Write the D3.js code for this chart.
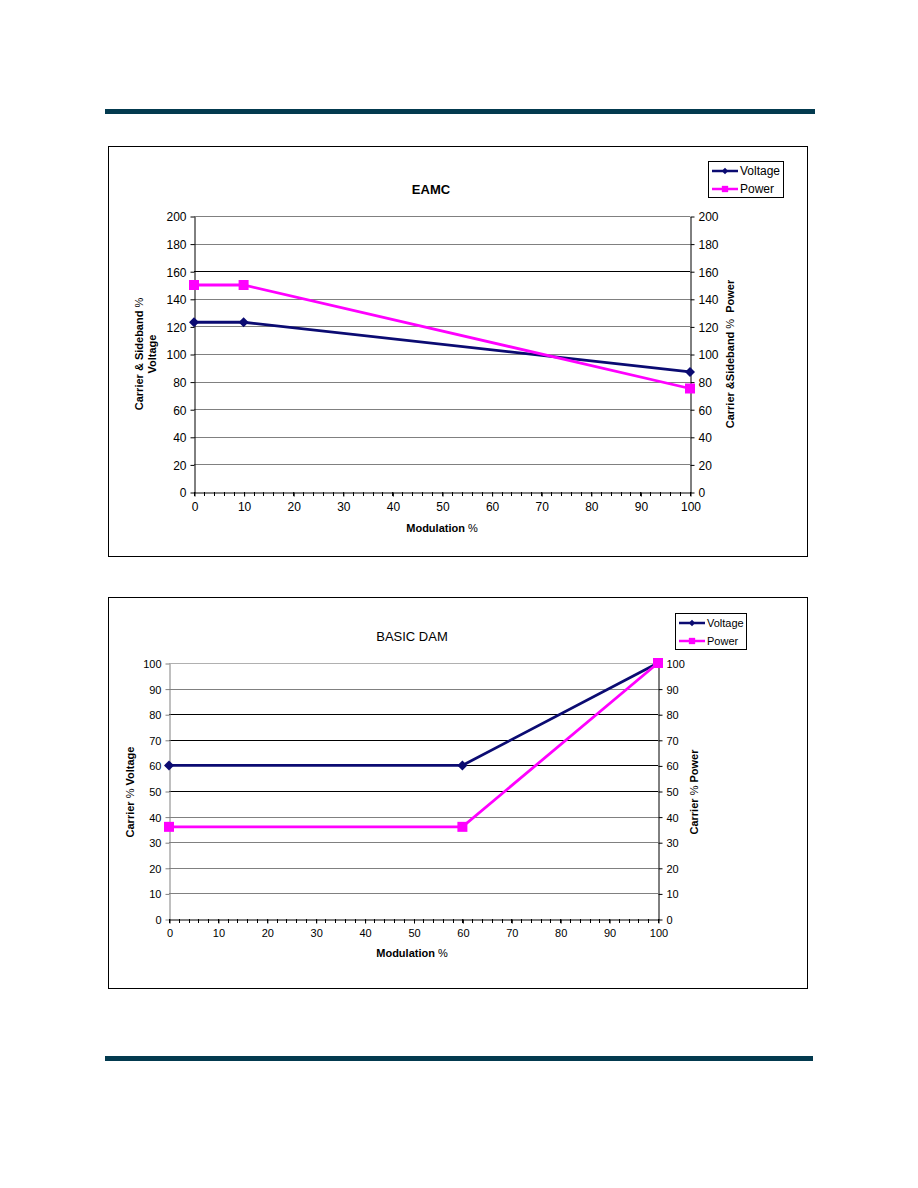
<!DOCTYPE html>
<html>
<head>
<meta charset="utf-8">
<script src="https://cdn.jsdelivr.net/npm/d3@7"></script>
<style>
  body { margin: 0; background: #fff; }
  svg { display: block; font-family: "Liberation Sans", Arial, sans-serif; }
</style>
</head>
<body>
<svg id="page" width="918" height="1188"></svg>
<script>

// chart values
var modulation_eamc = [0, 10, 100];
var eamc_voltage = [123, 123, 87];
var eamc_power = [150, 150, 75];

var modulation_dam = [0, 60, 100];
var dam_voltage = [60, 60, 100];
var dam_power = [36, 36, 100];

var x_ticks = [0, 10, 20, 30, 40, 50, 60, 70, 80, 90, 100];
var eamc_y_ticks = [0, 20, 40, 60, 80, 100, 120, 140, 160, 180, 200];
var dam_y_ticks = [0, 10, 20, 30, 40, 50, 60, 70, 80, 90, 100];

var series_names = ["Voltage", "Power"];

var voltage_col = "#0b0b72";
var power_col = "#ff00ff";
var bar_col = "#033a4f";

var svg = d3.select("#page");

// page rules top and bottom
svg.append("rect").attr("x", 105).attr("y", 109).attr("width", 710).attr("height", 5).attr("fill", bar_col);
svg.append("rect").attr("x", 105).attr("y", 1056).attr("width", 708).attr("height", 5).attr("fill", bar_col);

function drawChart(cfg) {
  var g = svg.append("g");

  // frame
  g.append("rect")
    .attr("x", cfg.box[0] + 0.5).attr("y", cfg.box[1] + 0.5)
    .attr("width", cfg.box[2]).attr("height", cfg.box[3])
    .attr("fill", "white").attr("stroke", "black").attr("stroke-width", 1);

  var x = d3.scaleLinear().domain([0, 100]).range([cfg.plot.left, cfg.plot.right]);
  var y = d3.scaleLinear().domain([0, cfg.ymax]).range([cfg.plot.bottom, cfg.plot.top]);

  // gridlines
  g.append("g").selectAll("line")
    .data(cfg.yticks.filter(function(d){ return d > 0; }))
    .enter().append("line")
      .attr("x1", cfg.plot.left).attr("x2", cfg.plot.right)
      .attr("y1", function(d){ return Math.round(y(d)) + 0.5; })
      .attr("y2", function(d){ return Math.round(y(d)) + 0.5; })
      .attr("stroke", function(d){ return cfg.dark_grid.indexOf(d) >= 0 ? "#000" : (d == cfg.ymax ? cfg.top_grid : "#808080"); })
      .attr("stroke-width", 1);

  // left axis
  var left_ax = g.append("g")
    .attr("transform", "translate(" + (cfg.plot.left + 0.5) + ",0.5)")
    .call(d3.axisLeft(y).tickValues(cfg.yticks).tickSize(4).tickSizeOuter(0));
  left_ax.select(".domain").attr("stroke", cfg.left_axis_col);
  left_ax.selectAll(".tick line").attr("stroke", cfg.left_axis_col);
  left_ax.selectAll("text").attr("x", -8).attr("dy", "0.36em")
    .style("font-size", cfg.tick_font + "px").attr("fill", "#000");

  // right axis
  var right_ax = g.append("g")
    .attr("transform", "translate(" + (cfg.plot.right + 0.5) + ",0.5)")
    .call(d3.axisRight(y).tickValues(cfg.yticks).tickSize(4).tickSizeOuter(0));
  right_ax.selectAll("text").attr("x", 8).attr("dy", "0.36em")
    .style("font-size", cfg.tick_font + "px").attr("fill", "#000");

  // x axis with minor ticks every 2
  var minor = d3.range(0, 101, 2);
  g.append("g").selectAll("line")
    .data(minor).enter().append("line")
      .attr("x1", function(d){ return Math.round(x(d)) + 0.5; })
      .attr("x2", function(d){ return Math.round(x(d)) + 0.5; })
      .attr("y1", cfg.plot.bottom).attr("y2", cfg.plot.bottom + 4)
      .attr("stroke", "#000");
  var x_ax = g.append("g")
    .attr("transform", "translate(0.5," + (cfg.plot.bottom + 0.5) + ")")
    .call(d3.axisBottom(x).tickValues(x_ticks).tickSize(4).tickSizeOuter(0));
  x_ax.selectAll("text").attr("y", 10).attr("dy", "0.71em")
    .style("font-size", cfg.tick_font + "px").attr("fill", "#000");

  // title
  g.append("text")
    .attr("x", cfg.title_pos[0]).attr("y", cfg.title_pos[1])
    .attr("text-anchor", "middle")
    .style("font-size", "13px")
    .style("font-weight", cfg.title_bold ? "bold" : "normal")
    .text(cfg.title);

  // x title
  var xt = g.append("text")
    .attr("x", cfg.xtitle_pos[0]).attr("y", cfg.xtitle_pos[1])
    .attr("text-anchor", "middle")
    .style("font-size", "11px");
  xt.append("tspan").style("font-weight", "bold").text("Modulation");
  xt.append("tspan").text(" %");

  // y titles (rotated)
  cfg.left_title.forEach(function(line, i) {
    var t = g.append("text")
      .attr("transform", "translate(" + (cfg.left_title_pos[0] + i * 13) + "," + cfg.left_title_pos[1] + ") rotate(-90)")
      .attr("text-anchor", "middle")
      .style("font-size", "11px");
    line.forEach(function(part) {
      t.append("tspan").style("font-weight", part[1] ? "bold" : "normal").text(part[0]);
    });
  });
  var rt = g.append("text")
    .attr("transform", "translate(" + cfg.right_title_pos[0] + "," + cfg.right_title_pos[1] + ") rotate(-90)")
    .attr("text-anchor", "middle")
    .style("font-size", "11px");
  cfg.right_title.forEach(function(part) {
    rt.append("tspan").style("font-weight", part[1] ? "bold" : "normal").attr("xml:space", "preserve").text(part[0]);
  });

  // series
  var line = d3.line().x(function(d){ return x(d[0]); }).y(function(d){ return y(d[1]); });
  var series = [
    {name: series_names[0], col: voltage_col, pts: d3.zip(cfg.mod, cfg.voltage), rot: 45, size: 50},
    {name: series_names[1], col: power_col, pts: d3.zip(cfg.mod, cfg.power), rot: 0, size: 100}
  ];
  series.forEach(function(s) {
    g.append("path").datum(s.pts)
      .attr("d", line).attr("fill", "none")
      .attr("stroke", s.col).attr("stroke-width", 2.8);
  });
  series.forEach(function(s) {
    g.append("g").selectAll("path")
      .data(s.pts).enter().append("path")
        .attr("transform", function(d){ return "translate(" + x(d[0]) + "," + y(d[1]) + ") rotate(" + s.rot + ")"; })
        .attr("d", d3.symbol().type(d3.symbolSquare).size(s.size))
        .attr("fill", s.col);
  });

  // legend
  var lg = g.append("g").attr("transform", "translate(" + cfg.legend[0] + "," + cfg.legend[1] + ")");
  lg.append("rect").attr("x", 0.5).attr("y", 0.5)
    .attr("width", cfg.legend[2]).attr("height", 36)
    .attr("fill", "white").attr("stroke", "black");
  series.forEach(function(s, i) {
    var yy = 10 + i * 18;
    lg.append("line").attr("x1", 4).attr("x2", 30).attr("y1", yy).attr("y2", yy)
      .attr("stroke", s.col).attr("stroke-width", 2.5);
    lg.append("path").attr("transform", "translate(17," + yy + ") rotate(" + s.rot + ")")
      .attr("d", d3.symbol().type(d3.symbolSquare).size(s.size * 0.4)).attr("fill", s.col);
    lg.append("text").attr("x", 32).attr("y", yy).attr("dy", "0.36em")
      .style("font-size", cfg.legend_font + "px").text(s.name);
  });
}

drawChart({
  box: [108, 146, 699, 410],
  plot: {left: 194, right: 690, top: 216, bottom: 492},
  ymax: 200, yticks: eamc_y_ticks, dark_grid: [160], top_grid: "#808080",
  left_axis_col: "#000", tick_font: 12,
  mod: modulation_eamc, voltage: eamc_voltage, power: eamc_power,
  title: "EAMC", title_bold: true, title_pos: [431, 194],
  xtitle_pos: [442, 532],
  left_title: [[["Carrier & Sideband ", true], ["%", false]], [["Voltage", true]]],
  left_title_pos: [143, 354],
  right_title: [["Carrier &Sideband ", true], ["%", false], ["  Power", true]],
  right_title_pos: [734, 354],
  legend: [708, 161, 75], legend_font: 12
});

drawChart({
  box: [108, 597, 699, 391],
  plot: {left: 169, right: 658, top: 663, bottom: 919},
  ymax: 100, yticks: dam_y_ticks, dark_grid: [50, 60, 70, 80], top_grid: "#b0b0b0",
  left_axis_col: "#808080", tick_font: 11,
  mod: modulation_dam, voltage: dam_voltage, power: dam_power,
  title: "BASIC DAM", title_bold: false, title_pos: [412, 641],
  xtitle_pos: [412, 957],
  left_title: [[["Carrier ", true], ["%", false], [" Voltage", true]]],
  left_title_pos: [134, 792],
  right_title: [["Carrier ", true], ["%", false], [" Power", true]],
  right_title_pos: [698, 792],
  legend: [675, 613, 71], legend_font: 11
});

</script>
</body>
</html>
